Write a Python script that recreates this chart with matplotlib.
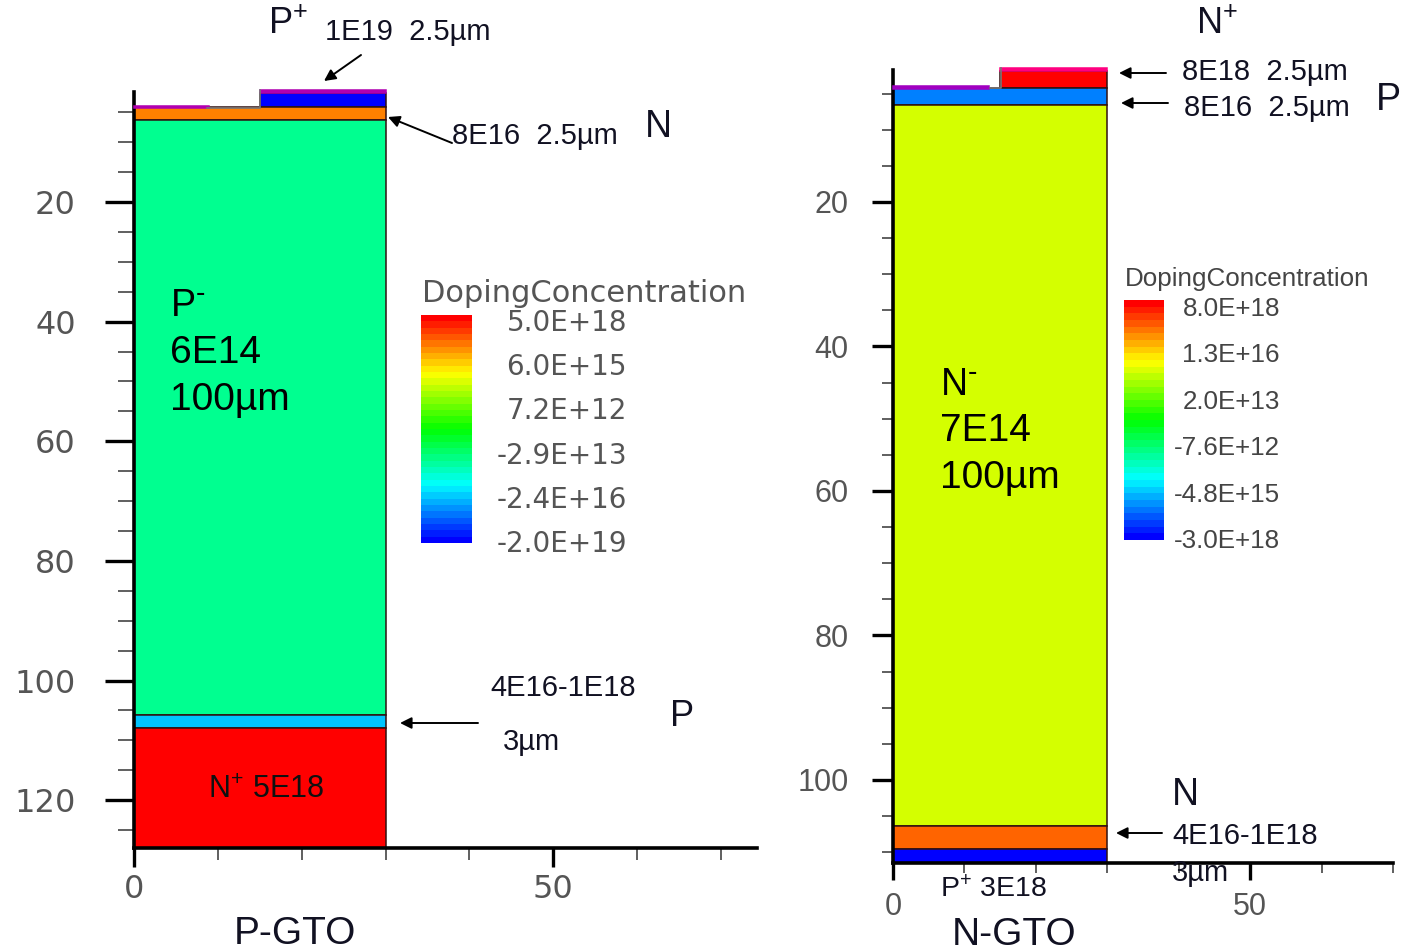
import matplotlib
matplotlib.use('Agg')
import matplotlib.pyplot as plt
from matplotlib.colors import LinearSegmentedColormap
from matplotlib.cm import ScalarMappable

plt.rcParams['font.family'] = ['Liberation Sans', 'DejaVu Sans']
plt.rcParams['mathtext.default'] = 'regular'

W, H = 1402, 952

# layers of each device: x from, x to, depth from, depth to, colour
p_x0 = [0, 15, 15, 0, 0, 0, 0]
p_x1 = [9, 30, 30, 30, 30, 30, 30]
p_top = [3.9, 1.3, 1.8, 4.1, 6.2, 105.7, 108]
p_bot = [4.2, 1.8, 4.1, 6.2, 105.7, 108, 128]
p_col = ['#b000b0', '#b000b0', '#0000ff', '#ff8000', '#00ff90', '#00c4ff', '#ff0000']

n_x0 = [0, 15, 15, 0, 0, 0, 0]
n_x1 = [13.5, 30, 30, 30, 30, 30, 30]
n_top = [4.0, 1.5, 1.9, 4.2, 6.6, 106.4, 109.5]
n_bot = [4.4, 1.9, 4.2, 6.6, 106.4, 109.5, 111.5]
n_col = ['#a000c0', '#ff0080', '#ff0000', '#0080ff', '#d4ff00', '#ff6400', '#0000ff']

y_major_p = [20, 40, 60, 80, 100, 120]
y_major_n = [20, 40, 60, 80, 100]
y_minor = [5, 10, 15, 25, 30, 35, 45, 50, 55, 65, 70, 75, 85, 90, 95, 105, 110, 115, 125]
x_major = [0, 50]
x_minor = [10, 20, 30, 40, 60, 70]

cbar_p = ['5.0E+18', '6.0E+15', '7.2E+12', '-2.9E+13', '-2.4E+16', '-2.0E+19']
cbar_n = ['8.0E+18', '1.3E+16', '2.0E+13', '-7.6E+12', '-4.8E+15', '-3.0E+18']

fig = plt.figure(figsize=(W / 100, H / 100), dpi=100)


def add_axes_px(x0, y0, x1, y1):
    return fig.add_axes([x0 / W, 1 - y1 / H, (x1 - x0) / W, (y1 - y0) / H])


def draw_device(box, xlim, ylim, x0, x1, top, bot, col, ymaj, fam, size, tlen, xpad):
    ax = add_axes_px(*box)
    for a, b, t, d, c in zip(x0, x1, top, bot, col):
        # the thin contact films have no dark outline
        edge = c if d - t < 1 else '#301010'
        ax.bar(a, d - t, b - a, bottom=t, align='edge', color=c, edgecolor=edge,
               linewidth=1.1, clip_on=False, zorder=3 if d - t < 1 else 2)
    ax.set_xlim(*xlim)
    ax.set_ylim(*ylim)
    ax.spines['top'].set_visible(False)
    ax.spines['right'].set_visible(False)
    ax.spines['left'].set_linewidth(2.6)
    ax.spines['bottom'].set_linewidth(2.6)
    ax.set_xticks(x_major)
    ax.set_xticks(x_minor, minor=True)
    ax.set_yticks(ymaj)
    ax.set_yticks([v for v in y_minor if v < ylim[0]], minor=True)
    ax.tick_params(axis='y', which='major', length=tlen[0], width=2.4, pad=tlen[1])
    ax.tick_params(axis='y', which='minor', length=tlen[0] * 0.55, width=1.2, color='#444444')
    ax.tick_params(axis='x', which='major', length=tlen[2], width=2.4, pad=xpad)
    ax.tick_params(axis='x', which='minor', length=tlen[2] * 0.6, width=1.2, color='#444444')
    for lab in ax.get_xticklabels() + ax.get_yticklabels():
        lab.set_fontfamily(fam)
        lab.set_fontsize(size)
        lab.set_color('#555555')
    return ax


draw_device((134, 92, 757, 848), (0, 74.3), (128, 1.6), p_x0, p_x1, p_top, p_bot, p_col,
            y_major_p, 'DejaVu Sans', 23, (21, 21, 14), 5)
draw_device((893, 70, 1393, 863), (0, 69.06), (111.5, 1.73), n_x0, n_x1, n_top, n_bot, n_col,
            y_major_n, 'Liberation Sans', 22, (15, 17, 12), 9)

# stepped rainbow colour bars
rainbow = LinearSegmentedColormap.from_list('tcad', ['#0000ff', '#00ffff', '#00ff00', '#ffff00', '#ff0000']).resampled(36)
for box in [(421, 315, 472, 543), (1124, 300, 1164, 540)]:
    cax = add_axes_px(*box)
    fig.colorbar(ScalarMappable(cmap=rainbow), cax=cax, ticks=[])
    cax.set_frame_on(False)

# overlay in picture pixels for the hand-placed notes
over = fig.add_axes([0, 0, 1, 1])
over.set_xlim(0, W)
over.set_ylim(H, 0)
over.axis('off')


def note(x, y, s, size=21, **kw):
    kw.setdefault('color', '#111122')
    kw.setdefault('va', 'center')
    over.text(x, y + 2, s, fontsize=size, **kw)


def arrow(x0, y0, x1, y1):
    over.annotate('', xy=(x1, y1), xytext=(x0, y0),
                  arrowprops=dict(arrowstyle='-|>', color='black', lw=1.4, mutation_scale=17, shrinkA=0, shrinkB=0))


# left device
over.plot([207, 260, 260], [107.5, 107.5, 90], color='#777777', lw=1.2)
note(268, 22, 'P$^{+}$', 26)
note(325, 30, '1E19  2.5µm')
arrow(361, 55, 324, 81)
arrow(452, 143, 388, 117)
note(452, 134, '8E16  2.5µm')
note(645, 125, 'N', 27)
note(170, 304, r'P$^{\text{-}}$', 27, color='black')
note(170, 351, '6E14', 28, color='black')
note(170, 398, '100µm', 28, color='black')
note(490, 686, '4E16-1E18')
note(503, 740, '3µm')
note(670, 714, 'P', 26)
arrow(478, 723, 400, 723)
note(208, 788, 'N$^{+}$ 5E18', 22, color='#101010')
note(234, 932, 'P-GTO', 28)

# right device
over.plot([990, 1001, 1001], [88, 88, 68], color='#777777', lw=1.2)
note(1196, 22, 'N$^{+}$', 26)
note(1182, 70, '8E18  2.5µm')
note(1184, 106, '8E16  2.5µm')
note(1376, 98, 'P', 27)
arrow(1166, 73, 1119, 73)
arrow(1168, 103, 1121, 103)
note(940, 383, r'N$^{\text{-}}$', 27, color='black')
note(940, 429, '7E14', 28, color='black')
note(940, 476, '100µm', 28, color='black')
note(1172, 793, 'N', 27)
note(1172, 834, '4E16-1E18')
note(1172, 871, '3µm')
arrow(1162, 833, 1116, 833)
note(940, 888, 'P$^{+}$ 3E18', 20.5)
note(952, 933, 'N-GTO', 28)

# colour bar captions and labels
over.text(422, 294, 'DopingConcentration', fontsize=22, family='DejaVu Sans', color='#555555', va='center')
for i, lab in enumerate(cbar_p):
    over.text(627, 323 + i * 44.2, lab, fontsize=20, family='DejaVu Sans', color='#555555', ha='right', va='center')
over.text(1125, 279, 'DopingConcentration', fontsize=18.7, color='#444444', va='center')
for i, lab in enumerate(cbar_n):
    over.text(1280, 309 + i * 46.4, lab, fontsize=18.7, color='#444444', ha='right', va='center')

fig.savefig('out.png', dpi=100)
